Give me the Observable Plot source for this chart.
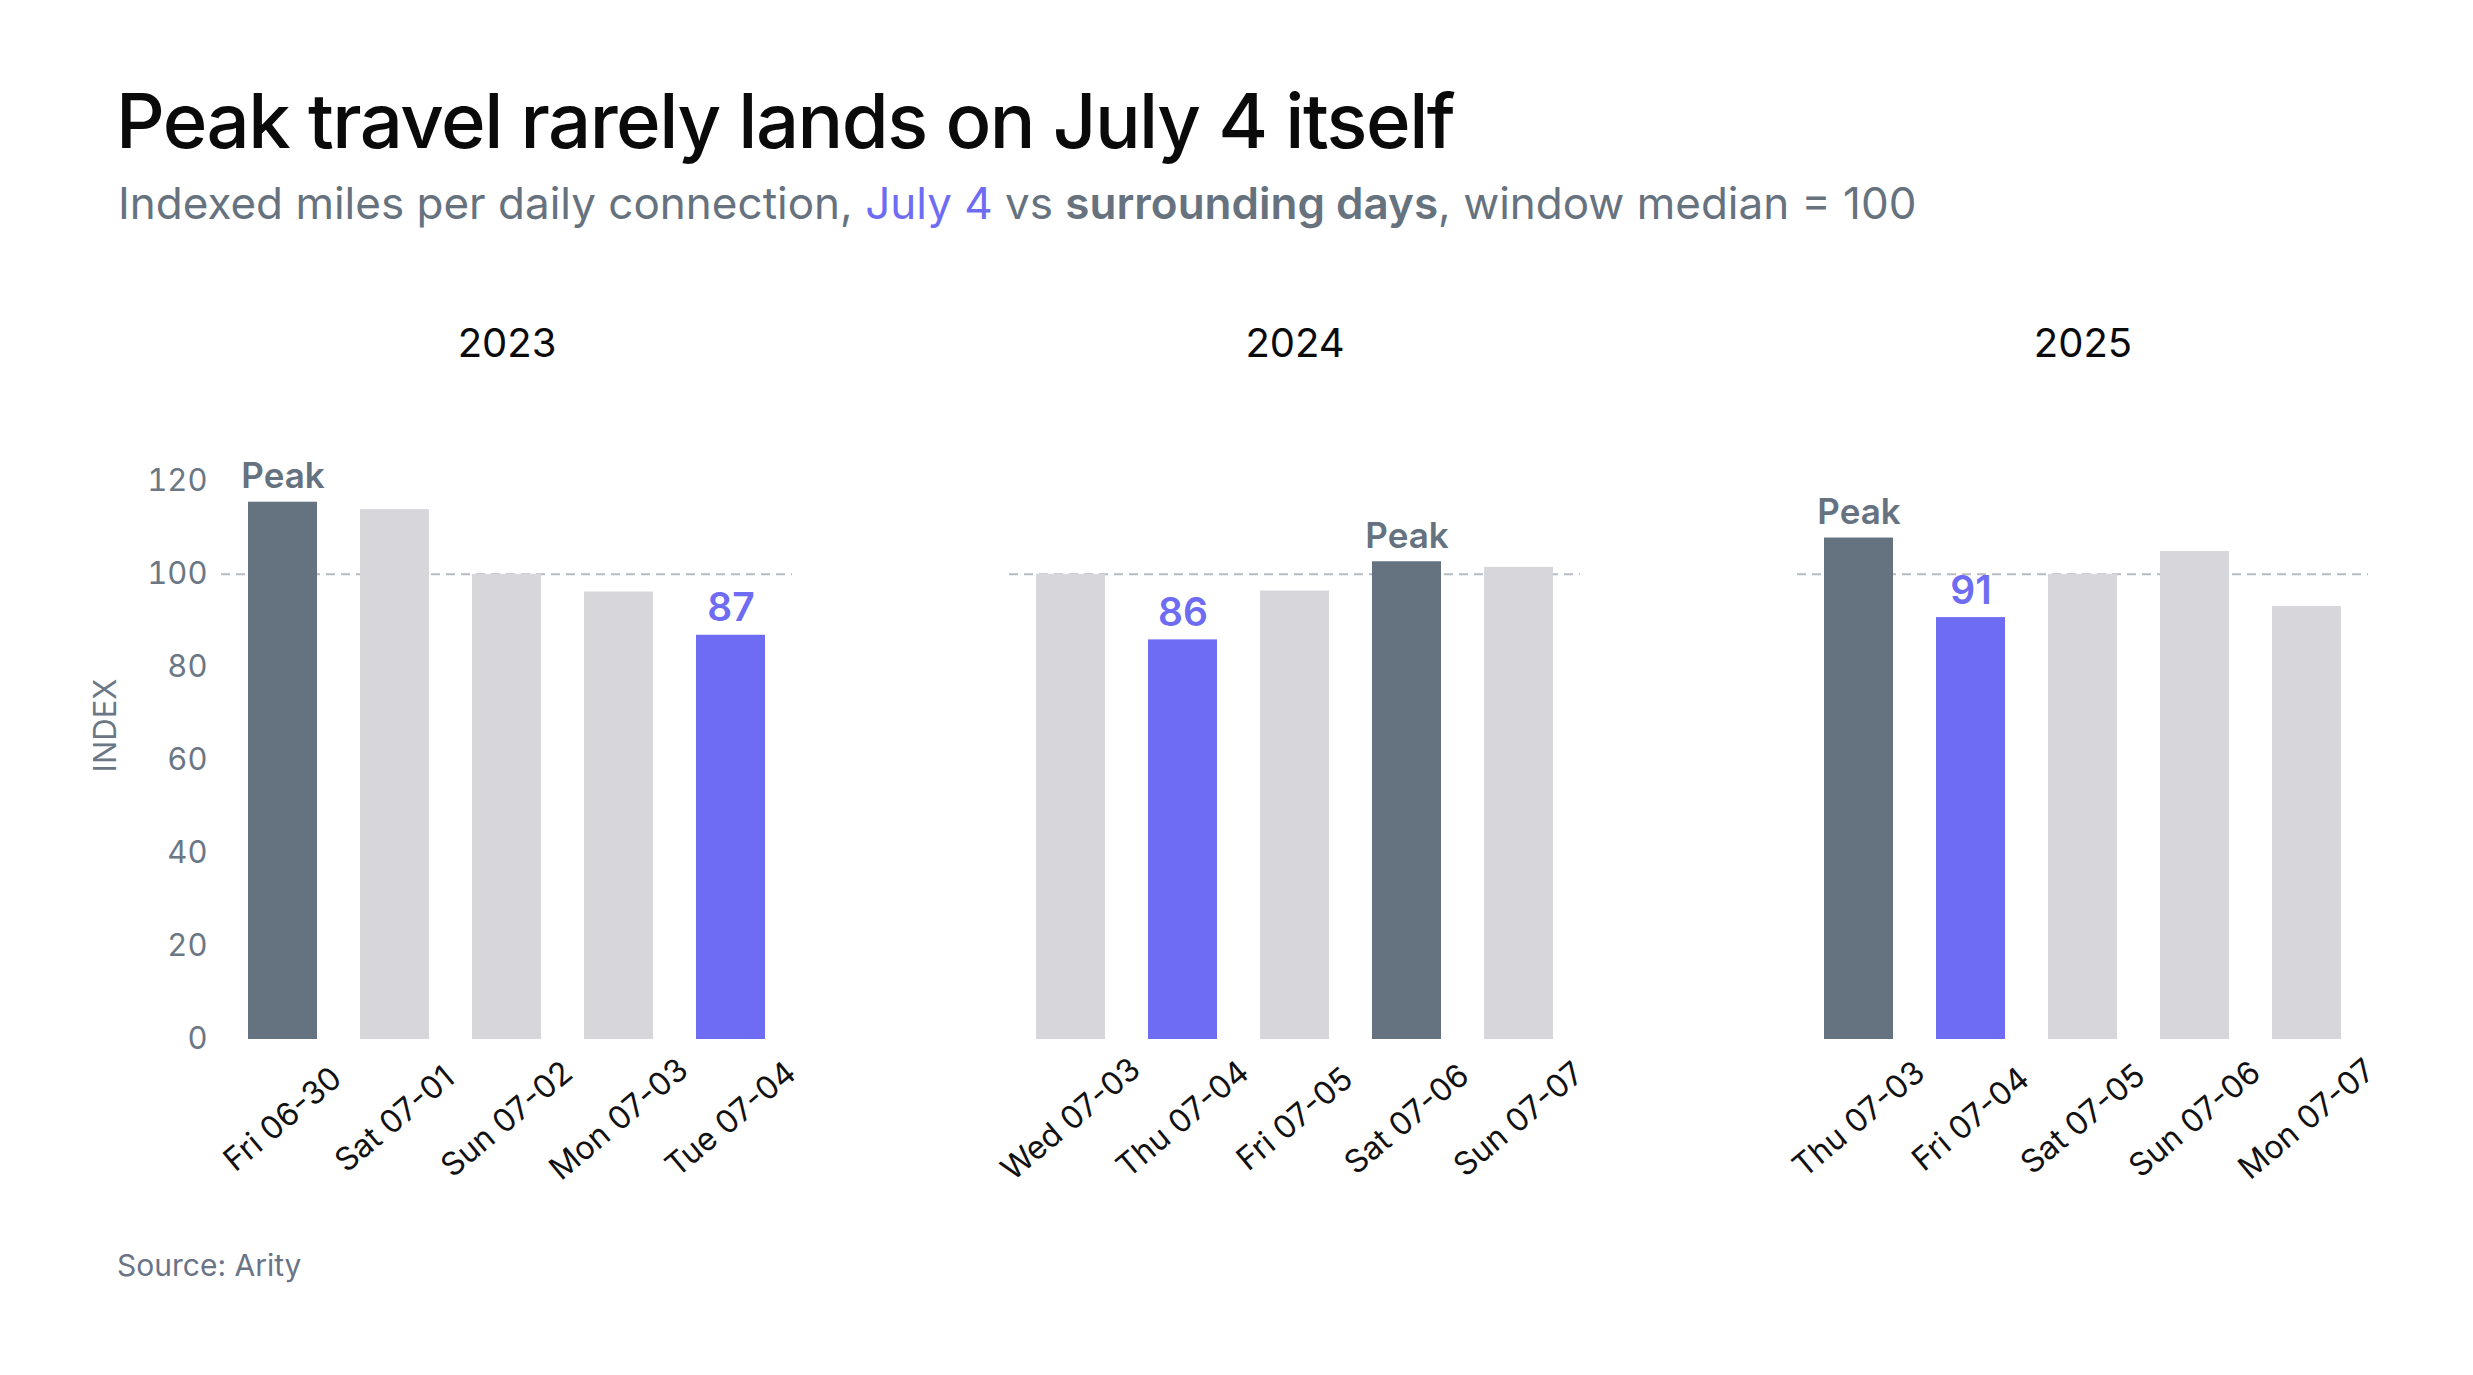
<!DOCTYPE html>
<html>
<head>
<meta charset="utf-8">
<script src="https://cdn.jsdelivr.net/npm/d3@7"></script>
<script src="https://cdn.jsdelivr.net/npm/@observablehq/plot@0.6"></script>
<style>
  html, body { margin: 0; padding: 0; background: #fff; }
  body { width: 2473px; height: 1375px; position: relative; overflow: hidden; font-family: Inter, "Noto Sans", sans-serif; }
  #title { position: absolute; left: 116px; top: 82px; font-size: 76px; line-height: 76px; font-weight: 500; color: #0a0a0a; letter-spacing: -0.02em; white-space: nowrap; }
  #subtitle { position: absolute; left: 118px; top: 181px; font-size: 44px; line-height: 44px; font-weight: 400; color: #67727f; white-space: nowrap; }
  #subtitle .j4 { color: #6e6cf2; }
  #subtitle .sd { font-weight: 600; color: #67727f; }
  #chart { position: absolute; left: 0; top: 280px; }
  #source { position: absolute; left: 117px; top: 1250px; font-size: 30px; line-height: 30px; color: #6b7386; white-space: nowrap; }
</style>
</head>
<body>
<div id="title">Peak travel rarely lands on July 4 itself</div>
<div id="subtitle">Indexed miles per daily connection, <span class="j4">July 4</span> vs <span class="sd">surrounding days</span>, window median = 100</div>
<div id="chart"></div>
<div id="source">Source: Arity</div>
<script>
const years = [2023, 2024, 2025];
const labels2023 = ["Fri 06-30", "Sat 07-01", "Sun 07-02", "Mon 07-03", "Tue 07-04"];
const labels2024 = ["Wed 07-03", "Thu 07-04", "Fri 07-05", "Sat 07-06", "Sun 07-07"];
const labels2025 = ["Thu 07-03", "Fri 07-04", "Sat 07-05", "Sun 07-06", "Mon 07-07"];
const values2023 = [115.5, 113.9, 100, 96.2, 86.9];
const values2024 = [100, 85.9, 96.4, 102.7, 101.5];
const values2025 = [107.8, 90.7, 100, 104.9, 93.1];
const yTicks = [0, 20, 40, 60, 80, 100, 120];
const baselineValue = 100;

const byYear = [[labels2023, values2023], [labels2024, values2024], [labels2025, values2025]];
const data = [];
byYear.forEach(([labels, values], i) => {
  const max = d3.max(values);
  labels.forEach((label, j) => {
    const value = values[j];
    const kind = label.endsWith("07-04") ? "july4" : (value === max ? "peak" : "other");
    data.push({year: years[i], pos: j, label, value, kind});
  });
});

const slate = "#65727f";
const purple = "#6e6cf2";
const light = "#d7d7db";

const chart = Plot.plot({
  width: 2473,
  height: 950,
  marginLeft: 220,
  marginRight: 103,
  marginTop: 131,
  marginBottom: 191,
  style: {fontFamily: "Inter, 'Noto Sans', sans-serif", background: "transparent"},
  fx: {domain: years, paddingInner: 0.275, paddingOuter: 0, axis: null},
  x: {domain: [0, 1, 2, 3, 4], paddingInner: 0.38, paddingOuter: 0.23, axis: null},
  y: {domain: [0, 135], axis: null},
  color: {domain: ["peak", "july4", "other"], range: [slate, purple, light]},
  marks: [
    Plot.axisY({
      ticks: yTicks, tickSize: 0, tickPadding: 14, fontSize: 31, color: "#6b7785",
      label: "INDEX", labelAnchor: "center", labelArrow: "none", labelOffset: 128
    }),
    Plot.ruleY([baselineValue], {stroke: "#b6bac1", strokeWidth: 2, strokeDasharray: "9,6"}),
    Plot.barY(data, {fx: "year", x: "pos", y: "value", fill: "kind"}),
    Plot.text(data.filter(d => d.kind === "peak"), {
      fx: "year", x: "pos", y: "value", text: () => "Peak",
      lineAnchor: "bottom", dy: -14, fontSize: 35, fontWeight: 600, fill: slate
    }),
    Plot.text(data.filter(d => d.kind === "july4"), {
      fx: "year", x: "pos", y: "value", text: d => d3.format(".0f")(d.value),
      lineAnchor: "bottom", dy: -14, fontSize: 39, fontWeight: 600, fill: purple
    }),
    Plot.text(data, {
      fx: "year", x: "pos", text: "label", frameAnchor: "bottom",
      dy: 80, rotate: -40, textAnchor: "middle", lineAnchor: "middle",
      fontSize: 32, fill: "#111"
    }),
    Plot.text(years, {
      fx: d => d, text: d => String(d), frameAnchor: "top", dy: -67,
      lineAnchor: "middle", fontSize: 40, fontWeight: 400, fill: "#0a0a0a"
    })
  ]
});
document.getElementById("chart").appendChild(chart);
</script>
</body>
</html>
